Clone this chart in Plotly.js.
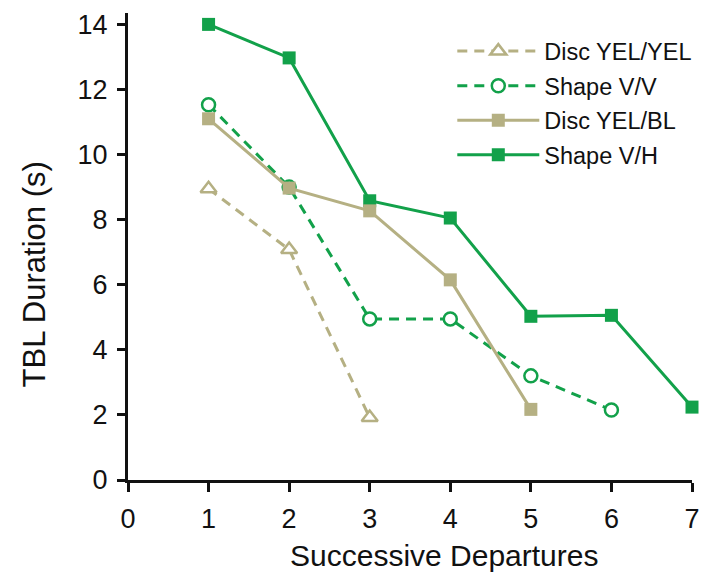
<!DOCTYPE html>
<html>
<head>
<meta charset="utf-8">
<script src="https://cdn.plot.ly/plotly-3.0.1.min.js"></script>
<style>html,body{margin:0;padding:0;background:#fff}#chart{width:703px;height:576px}</style>
</head>
<body>
<div id="chart"></div>
<script>
// Data
const seriesNames = ["Disc YEL/YEL", "Shape V/V", "Disc YEL/BL", "Shape V/H"];
const xYelYel = [1, 2, 3];
const yYelYel = [8.95, 7.08, 1.92];
const xVV = [1, 2, 3, 4, 5, 6];
const yVV = [11.53, 9.0, 4.95, 4.95, 3.2, 2.15];
const xYelBl = [1, 2, 3, 4, 5];
const yYelBl = [11.1, 8.97, 8.27, 6.15, 2.17];
const xVH = [1, 2, 3, 4, 5, 6, 7];
const yVH = [14.0, 12.97, 8.58, 8.05, 5.03, 5.06, 2.24];
const xTicks = [0, 1, 2, 3, 4, 5, 6, 7];
const yTicks = [0, 2, 4, 6, 8, 10, 12, 14];

const GREEN = "#12a14a";
const TAN = "#b5b083";
const FONT = "Liberation Sans, Arial, Helvetica, sans-serif";

const traces = [
  {
    name: seriesNames[3], x: xVH, y: yVH, mode: "lines+markers", legendrank: 4, legendgroup: "d",
    line: {color: GREEN, width: 3}, cliponaxis: false,
    marker: {symbol: "square", size: 13, color: GREEN}
  },
  {
    name: seriesNames[1], x: xVV, y: yVV, mode: "lines+markers", legendrank: 2, legendgroup: "b",
    line: {color: GREEN, width: 3, dash: "10px,7px"}, cliponaxis: false,
    marker: {symbol: "circle", size: 13, color: "#fff", line: {width: 2.5, color: GREEN}}
  },
  {
    name: seriesNames[0], x: xYelYel, y: yYelYel, mode: "lines+markers", legendrank: 1, legendgroup: "a",
    line: {color: TAN, width: 3, dash: "10px,7px"}, cliponaxis: false,
    marker: {symbol: "triangle-up", size: 14, color: "#fff", line: {width: 2.5, color: TAN}}
  },
  {
    name: seriesNames[2], x: xYelBl, y: yYelBl, mode: "lines+markers", legendrank: 3, legendgroup: "c",
    line: {color: TAN, width: 3}, cliponaxis: false,
    marker: {symbol: "square", size: 13, color: TAN}
  }
];

const layout = {
  width: 703, height: 576,
  margin: {l: 128, r: 11, t: 13, b: 96, autoexpand: false},
  paper_bgcolor: "#fff", plot_bgcolor: "#fff",
  font: {family: FONT, color: "#111", size: 24},
  showlegend: true,
  legend: {
    x: 0.575, y: 0.965, xanchor: "left", yanchor: "top",
    font: {family: FONT, size: 23.5, color: "#111"},
    itemwidth: 82, tracegroupgap: 1, bgcolor: "rgba(0,0,0,0)"
  },
  xaxis: {
    range: [0, 7], tickvals: xTicks, ticktext: xTicks.map(String), automargin: false,
    showgrid: false, zeroline: false, showline: true, linecolor: "#111", linewidth: 3,
    ticks: "outside", ticklen: 9, tickwidth: 3, tickcolor: "#111",
    ticklabelstandoff: 4,
    tickfont: {family: FONT, size: 27, color: "#111"}
  },
  yaxis: {
    range: [0, 14.35], tickvals: yTicks, ticktext: yTicks.map(String), automargin: false,
    showgrid: false, zeroline: false, showline: true, linecolor: "#111", linewidth: 3,
    ticks: "outside", ticklen: 8, tickwidth: 3, tickcolor: "#111",
    ticklabelstandoff: 4,
    tickfont: {family: FONT, size: 27, color: "#111"}
  },
  annotations: [
    {text: "Successive Departures", xref: "paper", yref: "paper", x: 0.56, y: -0.162,
     xanchor: "center", yanchor: "middle", showarrow: false,
     font: {family: FONT, size: 30, color: "#111"}},
    {text: "TBL Duration (s)", xref: "paper", yref: "paper", x: -0.165, y: 0.44,
     xanchor: "center", yanchor: "middle", showarrow: false, textangle: -90,
     font: {family: FONT, size: 31, color: "#111"}}
  ]
};

Plotly.newPlot("chart", traces, layout, {displayModeBar: false, staticPlot: true});
</script>
</body>
</html>
